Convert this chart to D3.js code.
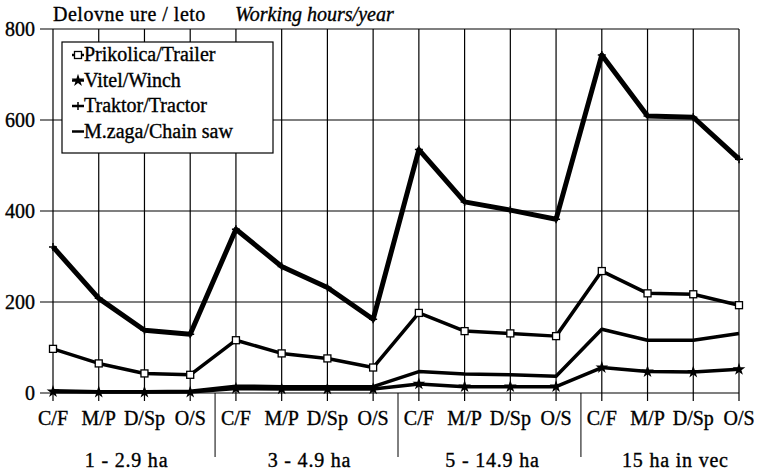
<!DOCTYPE html>
<html><head><meta charset="utf-8">
<script src="https://cdn.jsdelivr.net/npm/d3@7"></script>
<style>body{margin:0;background:#fff}svg{display:block}</style>
</head><body><svg id="c" width="761" height="473"></svg>
<script>
const categories = ["C/F","M/P","D/Sp","O/S"];
const groups = ["1 - 2.9 ha","3 - 4.9 ha","5 - 14.9 ha","15 ha in vec"];
const yTicks = [0,200,400,600,800];
const seriesNames = ["Prikolica/Trailer","Vitel/Winch","Traktor/Tractor","M.zaga/Chain saw"];
const trailer = [97,65,43,40, 116,87,76,56, 176,136,131,125, 268,219,217,193];
const winch = [3,2,2,2, 10,9,9,9, 20,14,14,14, 56,47,46,52];
const tractor = [321,208,138,129, 360,278,232,162, 535,420,402,382, 743,609,606,514];
const chainsaw = [5,3,3,4, 15,14,14,14, 47,42,40,37, 140,116,116,131];

const svg = d3.select("#c");
const FS = "20px";
function txt(sel){ return sel.attr("fill","#000").style("font-family","'Liberation Serif'").style("font-size",FS).style("stroke","#000").style("stroke-width","0.35px"); }
const keys = [];
groups.forEach((g,gi)=>categories.forEach((c,ci)=>keys.push(gi+"|"+ci)));
const x = d3.scalePoint().domain(keys).range([53,739]).padding(0);
const y = d3.scaleLinear().domain([0,800]).range([393,29]);

svg.append("g").selectAll("line").data(keys).join("line")
  .attr("x1",d=>x(d)).attr("x2",d=>x(d)).attr("y1",y(800)).attr("y2",y(0))
  .attr("stroke","#000").attr("stroke-width",1.2);
svg.append("g").selectAll("line").data(yTicks).join("line")
  .attr("x1",40).attr("x2",739).attr("y1",d=>y(d)).attr("y2",d=>y(d))
  .attr("stroke","#000").attr("stroke-width",1.2);
txt(svg.append("g").selectAll("text").data(yTicks).join("text")
  .attr("x",35).attr("y",d=>y(d)+7).attr("text-anchor","end")).text(d=>d);
svg.append("g").selectAll("line").data(keys).join("line")
  .attr("x1",d=>x(d)).attr("x2",d=>x(d)).attr("y1",y(0)).attr("y2",y(0)+8)
  .attr("stroke","#000").attr("stroke-width",1.2);
txt(svg.append("g").selectAll("text").data(keys).join("text")
  .attr("x",d=>x(d)).attr("y",425).attr("text-anchor","middle"))
  .text(d=>categories[+d.split("|")[1]]);
const step = x.step();
svg.append("g").selectAll("line").data(groups.slice(1)).join("line")
  .attr("x1",(d,i)=>x((i+1)+"|0")-step/2+2).attr("x2",(d,i)=>x((i+1)+"|0")-step/2+2)
  .attr("y1",y(0)).attr("y2",457).attr("stroke","#000").attr("stroke-width",1);
txt(svg.append("g").selectAll("text").data(groups).join("text")
  .attr("x",(d,i)=>(x(i+"|0")+x(i+"|3"))/2+5).attr("y",467).attr("text-anchor","middle"))
  .style("letter-spacing","0.8px").text(d=>d);
txt(svg.append("text").attr("x",53).attr("y",21)).style("letter-spacing","0.5px").text("Delovne ure / leto");
txt(svg.append("text").attr("x",235).attr("y",21)).style("font-style","italic").text("Working hours/year");

const line = d3.line().x((d,i)=>x(keys[i])).y(d=>y(d));
const series = [
  {data:tractor, w:5, m:"plus"},
  {data:trailer, w:3.5, m:"square"},
  {data:chainsaw, w:3.5, m:"none"},
  {data:winch, w:3.5, m:"star"}
];
function marker(g, type, cx, cy){
  if(type==="square") g.append("rect").attr("x",cx-3.5).attr("y",cy-3.5).attr("width",7).attr("height",7).attr("fill","#fff").attr("stroke","#000").attr("stroke-width",1.3);
  else if(type==="plus") g.append("path").attr("d",`M${cx-4},${cy}H${cx+4}M${cx},${cy-4}V${cy+4}`).attr("stroke","#000").attr("stroke-width",1.5);
  else if(type==="star") g.append("path").attr("d",d3.symbol(d3.symbolStar,50)()).attr("transform",`translate(${cx},${cy})`).attr("fill","#000");
}
const pg = svg.append("g");
series.forEach(s=>{
  pg.append("path").attr("d",line(s.data)).attr("fill","none").attr("stroke","#000").attr("stroke-width",s.w).attr("stroke-linejoin","round");
  s.data.forEach((v,i)=>marker(pg,s.m,x(keys[i]),y(v)));
});
const lg = svg.append("g");
lg.append("rect").attr("x",62).attr("y",42).attr("width",211).attr("height",111).attr("fill","#fff").attr("stroke","#000").attr("stroke-width",1.2);
const legendMarks = ["square","star","plus","none"];
seriesNames.forEach((n,i)=>{
  const base = 61 + i*25.5;
  const cy = base - 6;
  lg.append("line").attr("x1",72).attr("x2",84).attr("y1",cy).attr("y2",cy).attr("stroke","#000").attr("stroke-width",2.5);
  marker(lg, legendMarks[i], 78, cy);
  txt(lg.append("text").attr("x",84).attr("y",base)).text(n);
});
</script></body></html>
